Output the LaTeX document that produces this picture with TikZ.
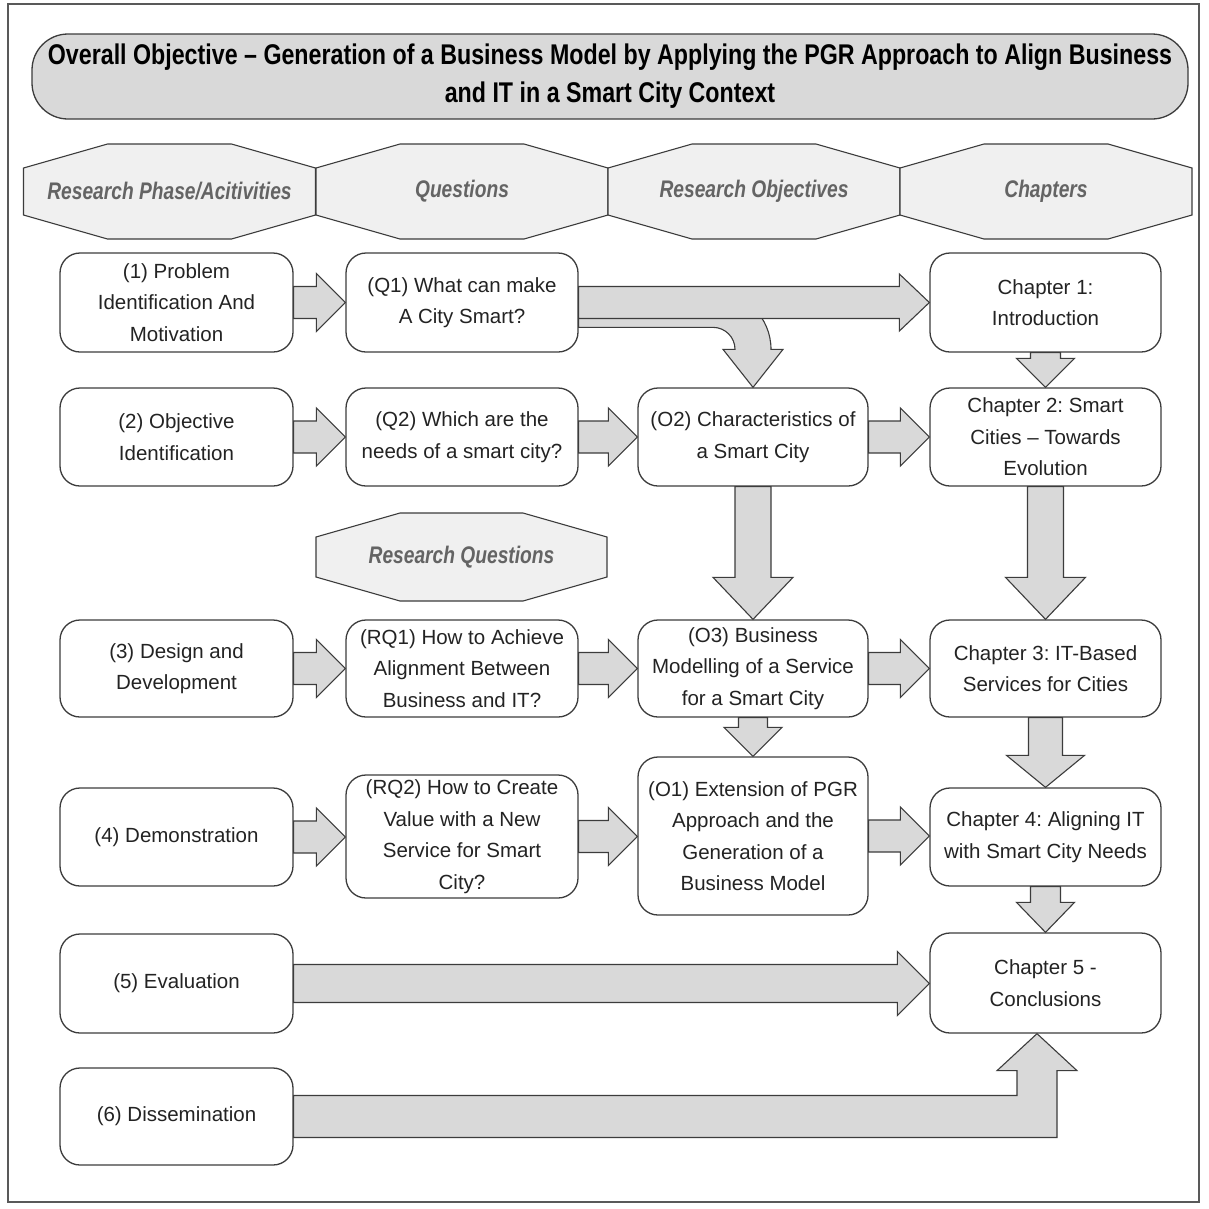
\documentclass[tikz,border=0pt]{standalone}
\usepackage{fontspec}
\setmainfont{Liberation Sans}
\newfontfamily\titlefont{Liberation Sans}[FakeStretch=0.815]
\newfontfamily\headfont{Liberation Sans}[FakeStretch=0.8]
\usetikzlibrary{calc}
\frenchspacing

\definecolor{arrowgray}{RGB}{217,217,217}
\definecolor{linegray}{RGB}{60,60,60}
\definecolor{octfill}{RGB}{240,240,240}
\definecolor{headtext}{RGB}{100,100,100}
\definecolor{bodytext}{RGB}{35,35,35}

\tikzset{
  stepbox/.style={draw=linegray, line width=1.3pt, fill=white, rounded corners=20pt,
    align=center, text=bodytext, inner sep=2pt,
    font=\fontsize{20.5}{31.5}\selectfont},
  blockarrow/.style={draw=linegray, line width=1.1pt, fill=arrowgray, line join=miter},
  octashape/.style={draw=linegray, line width=1.1pt, fill=octfill},
  octatext/.style={text=headtext, font=\headfont\bfseries\itshape\fontsize{24}{28}\selectfont},
}

% block arrow pointing right, from the east side of #1 to the west side of #2
% #3 shaft half width, #4 head half width, #5 head length
\newcommand{\rightblock}[5]{%
  \filldraw[blockarrow] let \p1=(#1.east), \p2=(#2.west) in
    (\x1,{\y1+#3}) -- ({\x2-#5},{\y1+#3}) -- ({\x2-#5},{\y1+#4}) -- (\x2,\y1)
    -- ({\x2-#5},{\y1-#4}) -- ({\x2-#5},{\y1-#3}) -- (\x1,{\y1-#3}) -- cycle;}

% block arrow pointing down, from the south side of #1 to the north side of #2
\newcommand{\downblock}[5]{%
  \filldraw[blockarrow] let \p1=(#1.south), \p2=(#2.north) in
    ({\x1-#3},\y1) -- ({\x1-#3},{\y2+#5}) -- ({\x1-#4},{\y2+#5}) -- (\x1,\y2)
    -- ({\x1+#4},{\y2+#5}) -- ({\x1+#3},{\y2+#5}) -- ({\x1+#3},\y1) -- cycle;}

% octagonal header: name, centre x, centre y, half width, half height,
% half height of the vertical sides, half width of the top edge, text
\newcommand{\octa}[8]{%
  \draw[octashape] ({#2-#4},{#3-#6}) -- ({#2-#4},{#3+#6}) -- ({#2-#7},{#3+#5})
    -- ({#2+#7},{#3+#5}) -- ({#2+#4},{#3+#6}) -- ({#2+#4},{#3-#6})
    -- ({#2+#7},{#3-#5}) -- ({#2-#7},{#3-#5}) -- cycle;
  \node[octatext] (#1) at (#2,#3) {#8};}

\begin{document}
\begin{tikzpicture}[x=1pt,y=-1pt]
\useasboundingbox (0,0) rectangle (1209,1208);
\fill[white] (0,0) rectangle (1209,1208);
\draw[line width=1.3pt, draw=linegray!85] (8,4) rectangle (1199,1202);

% overall objective banner
\node[draw=linegray, line width=1.3pt, fill=arrowgray, rounded corners=36pt,
      minimum width=1156pt, minimum height=85pt, align=center,
      font={\titlefont\bfseries\fontsize{28.5}{38}\selectfont}] (title) at (610,76.5)
  {Overall Objective – Generation of a Business Model by Applying the PGR Approach to Align Business\\and IT in a Smart City Context};

% column headers
\octa{hphase}{169.5}{191.5}{146}{47.5}{23.5}{62}{Research Phase/Acitivities}
\octa{hquest}{462}{191.5}{146}{47.5}{23.5}{62}{Questions}
\octa{hobj}{754}{191.5}{146}{47.5}{23.5}{62}{Research Objectives}
\octa{hchap}{1046}{191.5}{146}{47.5}{23.5}{62}{Chapters}
\octa{hrq}{461.5}{557}{145.5}{44}{20}{61.5}{Research Questions}

% research phases
\node[stepbox, minimum width=233pt, minimum height=99pt] (p1) at (176.5,302.5) {(1) Problem\\Identification And\\Motivation};
\node[stepbox, minimum width=233pt, minimum height=98pt] (p2) at (176.5,437) {(2) Objective\\Identification};
\node[stepbox, minimum width=233pt, minimum height=97pt] (p3) at (176.5,668.5) {(3) Design and\\Development};
\node[stepbox, minimum width=233pt, minimum height=98pt] (p4) at (176.5,837) {(4) Demonstration};
\node[stepbox, minimum width=233pt, minimum height=99pt] (p5) at (176.5,983.5) {(5) Evaluation};
\node[stepbox, minimum width=233pt, minimum height=97pt] (p6) at (176.5,1116.5) {(6) Dissemination};

% questions
\node[stepbox, minimum width=232pt, minimum height=99pt] (q1) at (462,302.5) {(Q1) What can make\\A City Smart?};
\node[stepbox, minimum width=232pt, minimum height=98pt] (q2) at (462,437) {(Q2) Which are the\\needs of a smart city?};
\node[stepbox, minimum width=232pt, minimum height=97pt] (rq1) at (462,668.5) {(RQ1) How to Achieve\\Alignment Between\\Business and IT?};
\node[stepbox, minimum width=232pt, minimum height=123pt] (rq2) at (462,836.5) {(RQ2) How to Create\\Value with a New\\Service for Smart\\City?};

% objectives
\node[stepbox, minimum width=230pt, minimum height=98pt] (o2) at (753,437) {(O2) Characteristics of\\a Smart City};
\node[stepbox, minimum width=230pt, minimum height=97pt] (o3) at (753,668.5) {(O3) Business\\Modelling of a Service\\for a Smart City};
\node[stepbox, minimum width=230pt, minimum height=158pt] (o1) at (753,836) {(O1) Extension of PGR\\Approach and the\\Generation of a\\Business Model};

% chapters
\node[stepbox, minimum width=231pt, minimum height=99pt] (c1) at (1045.5,302.5) {Chapter 1:\\Introduction};
\node[stepbox, minimum width=231pt, minimum height=98pt] (c2) at (1045.5,437) {Chapter 2: Smart\\Cities – Towards\\Evolution};
\node[stepbox, minimum width=231pt, minimum height=97pt] (c3) at (1045.5,668.5) {Chapter 3: IT-Based\\Services for Cities};
\node[stepbox, minimum width=231pt, minimum height=98pt] (c4) at (1045.5,837) {Chapter 4: Aligning IT\\with Smart City Needs};
\node[stepbox, minimum width=231pt, minimum height=100pt] (c5) at (1045.5,983) {Chapter 5 -\\Conclusions};

% curved arrow from Q1 down into O2 (drawn first, the straight arrow covers its top)
\filldraw[blockarrow] let \p1=(q1.east), \p2=(o2.north) in
  (\x1,{\y2+96pt}) -- ({\x2-40pt},{\y2+96pt})
  arc[start angle=90, end angle=0, radius=58pt]
  -- ({\x2+30pt},{\y2+38pt}) -- (\x2,\y2) -- ({\x2-30pt},{\y2+38pt}) -- ({\x2-18pt},{\y2+38pt})
  arc[start angle=0, end angle=90, radius=22pt]
  -- (\x1,{\y2+60pt}) -- cycle;

% horizontal arrows
\rightblock{p1}{q1}{16pt}{29pt}{29pt}
\rightblock{q1}{c1}{16pt}{28.5pt}{30pt}
\rightblock{p2}{q2}{16pt}{29pt}{29pt}
\rightblock{q2}{o2}{16pt}{29pt}{29pt}
\rightblock{o2}{c2}{16pt}{29pt}{29pt}
\rightblock{p3}{rq1}{16pt}{29pt}{29pt}
\rightblock{rq1}{o3}{16pt}{29pt}{29pt}
\rightblock{o3}{c3}{16pt}{29pt}{29pt}
\rightblock{p4}{rq2}{16pt}{29pt}{29pt}
\rightblock{rq2}{o1}{16pt}{29pt}{29pt}
\rightblock{o1}{c4}{16pt}{29pt}{29pt}
\rightblock{p5}{c5}{19pt}{32pt}{32pt}

% vertical arrows
\downblock{c1}{c2}{15pt}{29pt}{29pt}
\downblock{o2}{o3}{18pt}{40pt}{42pt}
\downblock{c2}{c3}{18pt}{40pt}{42pt}
\downblock{o3}{o1}{14.5pt}{29pt}{29pt}
\downblock{c3}{c4}{17pt}{39pt}{32pt}
\downblock{c4}{c5}{15pt}{29pt}{30pt}

% bent arrow from Dissemination up into Chapter 5
\filldraw[blockarrow] let \p1=(p6.east), \p2=(c5.south) in
  (\x1,{\y1+21pt}) -- ({\x2-28.5pt},{\y1+21pt}) -- ({\x2-28.5pt},{\y2-37pt})
  -- ({\x2-48.5pt},{\y2-37pt}) -- ({\x2-8.5pt},\y2) -- ({\x2+31.5pt},{\y2-37pt})
  -- ({\x2+11.5pt},{\y2-37pt}) -- ({\x2+11.5pt},{\y1-21pt}) -- (\x1,{\y1-21pt}) -- cycle;
\end{tikzpicture}
\end{document}
